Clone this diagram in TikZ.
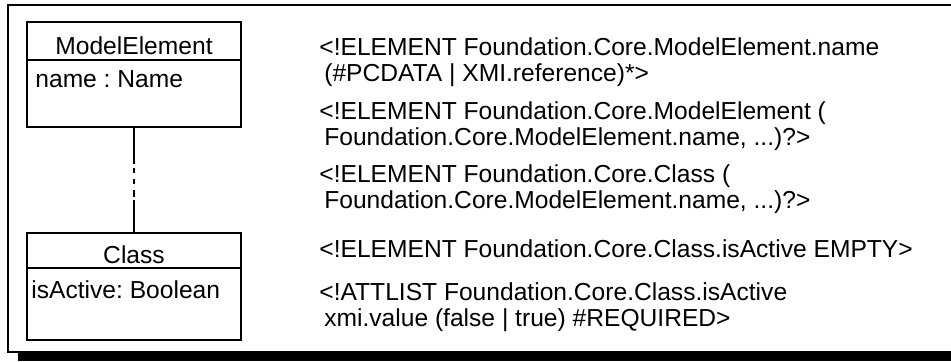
\documentclass[tikz,border=0pt]{standalone}
\usepackage{fontspec}
\setmainfont{Liberation Sans}
\frenchspacing

\tikzset{
  umlbox/.style={draw, line width=0.8pt, minimum width=107pt},
  dtdline/.style={anchor=north west, align=left}
}

\begin{document}
\begin{tikzpicture}[x=0.5pt, y=-0.5pt, every node/.style={font=\fontsize{12.3}{13}\selectfont, inner sep=0pt}]
  \useasboundingbox (0,0) rectangle (951,361);
  % Frame with shadow
  \fill[black] (18,353) rectangle (951,361);
  \draw[line width=1pt] (951,5) -- (8,5) -- (8,352) -- (951,352);

  % ModelElement class box
  \node[umlbox, minimum height=52.5pt] (me) at (134,74.5) {};
  \node[anchor=base] (metitle) at (134,54) {ModelElement};
  \node[anchor=base west] (meattr) at (35,87) {name : Name};
  \draw[line width=0.8pt] ([yshift=-19.5pt]me.north west) -- ([yshift=-19.5pt]me.north east);

  % Class class box
  \node[umlbox, minimum height=53.5pt] (cls) at (134,286.5) {};
  \node[anchor=base] (clstitle) at (134,263) {Class};
  \node[anchor=base west] (clsattr) at (31,298) {isActive: Boolean};
  \draw[line width=0.8pt] ([yshift=-18pt]cls.north west) -- ([yshift=-18pt]cls.north east);

  % Link between the two boxes
  \draw[line width=0.8pt, dash pattern=on 18pt off 2pt on 2.5pt off 3pt on 2.5pt off 3pt on 3.5pt off 1.5pt on 17pt off 0pt] (me.south) -- (cls.north);

  % DTD declarations
  \node[dtdline] (dtdname) at (319,37.4) {<!ELEMENT Foundation.Core.ModelElement.name\\\hspace*{0.2em}(\#PCDATA | XMI.reference)*>};
  \node[dtdline] (dtdme) at (319,101) {<!ELEMENT Foundation.Core.ModelElement (\\\hspace*{0.2em}Foundation.Core.ModelElement.name, ...)?>};
  \node[dtdline] (dtdcls) at (319,164) {<!ELEMENT Foundation.Core.Class (\\\hspace*{0.2em}Foundation.Core.ModelElement.name, ...)?>};
  \node[dtdline] (dtdact) at (319,239) {<!ELEMENT Foundation.Core.Class.isActive EMPTY>};
  \node[dtdline] (dtdatt) at (319,282.5) {<!ATTLIST Foundation.Core.Class.isActive\\\hspace*{0.2em}xmi.value (false | true) \#REQUIRED>};
\end{tikzpicture}
\end{document}
